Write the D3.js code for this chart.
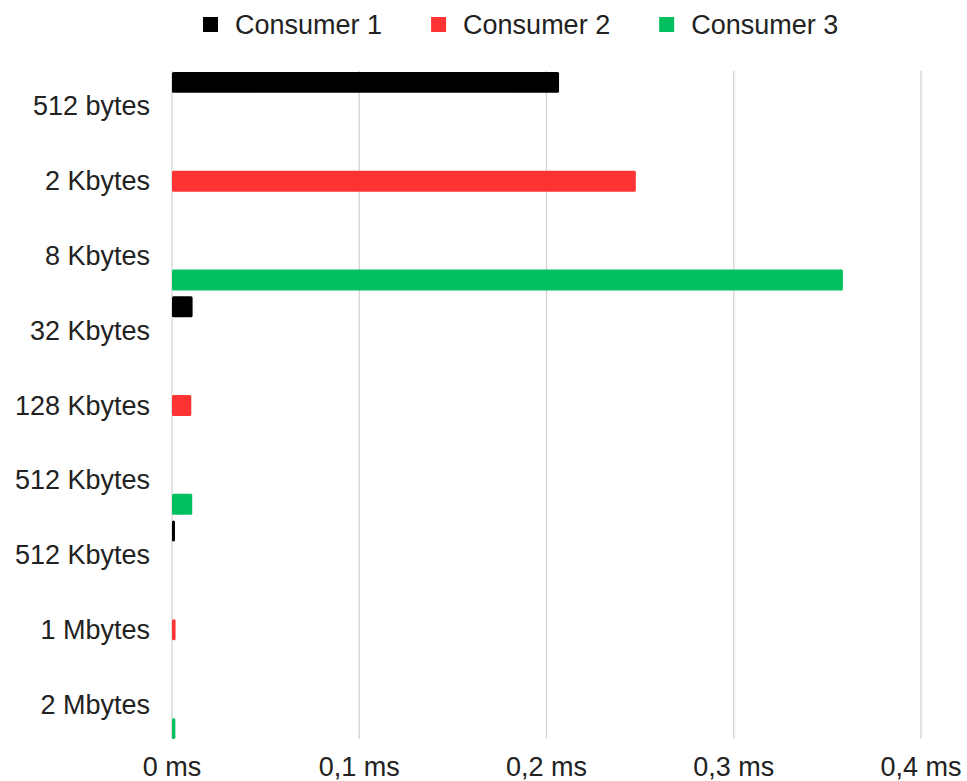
<!DOCTYPE html>
<html>
<head>
<meta charset="utf-8">
<script src="https://cdn.jsdelivr.net/npm/d3@7"></script>
<style>
  html, body { margin: 0; padding: 0; background: #fff; }
  svg { display: block; font-family: "Liberation Sans", Arial, sans-serif; }
</style>
</head>
<body>
<svg id="chart" width="967" height="781"></svg>
<script>
// Message sizes (one row each) and the latency of each consumer in ms
const categories = ["512 bytes", "2 Kbytes", "8 Kbytes", "32 Kbytes", "128 Kbytes",
                    "512 Kbytes", "512 Kbytes", "1 Mbytes", "2 Mbytes"];
const seriesNames = ["Consumer 1", "Consumer 2", "Consumer 3"];
const seriesColors = ["#000000", "#ff3333", "#00bf5f"];
const consumer1 = [0.2067, null, null, 0.0110, null, null, 0.0016, null, null];
const consumer2 = [null, 0.2477, null, null, 0.0103, null, null, 0.0019, null];
const consumer3 = [null, null, 0.3583, null, null, 0.0108, null, null, 0.0018];
const xTicks = [0, 0.1, 0.2, 0.3, 0.4];

const series = [consumer1, consumer2, consumer3];

const svg = d3.select("#chart");
const margin = { top: 69, left: 172, right: 46, bottom: 39 };
const W = 967, H = 781;
const fontSize = 27;

const x = d3.scaleLinear().domain([0, 0.4]).range([margin.left, W - margin.right]);
const y = d3.scaleBand().domain(d3.range(categories.length))
  .range([margin.top, H - margin.bottom]).paddingInner(0).paddingOuter(0);
const ySub = d3.scaleBand().domain(d3.range(series.length))
  .range([0, y.bandwidth()]).paddingInner(0.13).paddingOuter(0.12);

const fmt = d3.formatLocale({ decimal: ",", thousands: ".", grouping: [3], currency: ["", ""] }).format("~g");

// vertical grid lines
svg.append("g").selectAll("line").data(xTicks).join("line")
  .attr("x1", d => x(d)).attr("x2", d => x(d))
  .attr("y1", margin.top + 2).attr("y2", H - margin.bottom - 3)
  .attr("stroke", "#d4d4d4").attr("stroke-width", 1.3);

// bars
const groups = svg.append("g").selectAll("g").data(categories).join("g")
  .attr("transform", (d, i) => `translate(0,${y(i)})`);
groups.each(function (c, i) {
  const g = d3.select(this);
  series.forEach((s, k) => {
    const v = s[i];
    if (v == null) return;
    g.append("rect")
      .attr("x", x(0))
      .attr("y", ySub(k))
      .attr("width", Math.max(x(v) - x(0), 1))
      .attr("height", ySub.bandwidth())
      .attr("rx", 1.5)
      .attr("fill", seriesColors[k]);
  });
});

// category labels
svg.append("g").selectAll("text").data(categories).join("text")
  .attr("x", margin.left - 22)
  .attr("y", (d, i) => y(i) + y.bandwidth() / 2)
  .attr("text-anchor", "end")
  .attr("dominant-baseline", "central")
  .attr("font-size", fontSize)
  .attr("fill", "#222")
  .text(d => d);

// x tick labels
svg.append("g").selectAll("text").data(xTicks).join("text")
  .attr("x", d => x(d))
  .attr("y", 776)
  .attr("text-anchor", "middle")
  .attr("font-size", fontSize)
  .attr("fill", "#222")
  .text(d => fmt(d) + " ms");

// legend
const legend = svg.append("g");
let lx = 203;
seriesNames.forEach((name, k) => {
  legend.append("rect").attr("x", lx).attr("y", 17).attr("width", 15).attr("height", 15)
    .attr("fill", seriesColors[k]);
  const t = legend.append("text").attr("x", lx + 32).attr("y", 24.5)
    .attr("dominant-baseline", "central").attr("font-size", fontSize).attr("fill", "#222").text(name);
  lx += 32 + t.node().getComputedTextLength() + 49;
});
</script>
</body>
</html>
